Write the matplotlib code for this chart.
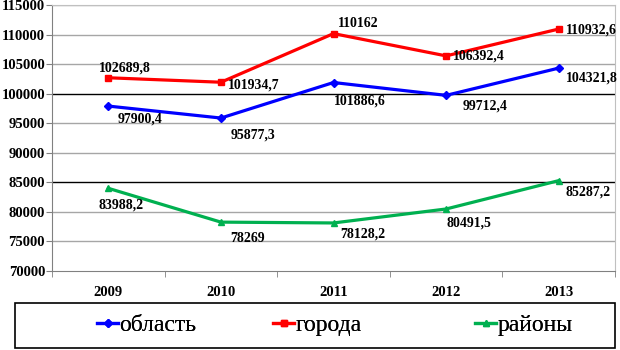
import matplotlib
matplotlib.use('Agg')
import matplotlib.pyplot as plt
from matplotlib.lines import Line2D
from matplotlib.patches import Rectangle

years = ['2009', '2010', '2011', '2012', '2013']
oblast = [97900.4, 95877.3, 101886.6, 99712.4, 104321.8]
goroda = [102689.8, 101934.7, 110162, 106392.4, 110932.6]
raiony = [83988.2, 78269, 78128.2, 80491.5, 85287.2]
oblast_lbl = ['97900,4', '95877,3', '101886,6', '99712,4', '104321,8']
goroda_lbl = ['102689,8', '101934,7', '110162', '106392,4', '110932,6']
raiony_lbl = ['83988,2', '78269', '78128,2', '80491,5', '85287,2']
yticks = [70000, 75000, 80000, 85000, 90000, 95000, 100000, 105000, 110000, 115000]
series_names = ['область', 'города', 'районы']

plt.rcParams['font.family'] = ['Liberation Serif', 'DejaVu Serif']

fig = plt.figure(figsize=(6.2, 3.5), dpi=100)
ax = fig.add_axes([52 / 620, 1 - 271 / 350, 563 / 620, 266 / 350])

x = list(range(len(years)))
ax.set_xlim(-0.5, 4.5)
ax.set_ylim(70000, 115000)
for v in yticks[1:]:
    c = '#000000' if v in (85000, 100000) else '#a6a6a6'
    ax.axhline(v, color=c, lw=1.0, zorder=1)

ax.plot(x, oblast, color='#0000ff', lw=2.3, marker='D', ms=4.5, zorder=3)
ax.plot(x, goroda, color='#ff0000', lw=2.3, marker='s', ms=5, zorder=3)
ax.plot(x, raiony, color='#00b050', lw=2.3, marker='^', ms=5, zorder=3)

lbl_style = dict(fontsize=10, fontweight='bold', color='black', zorder=4)
oblast_off = [(7, -9), (7, -12), (0, -13), (12, -8), (5, -7)]
goroda_off = [(-7, 7), (5, -2), (3, 7), (5, 0), (5, -1)]
raiony_off = [(-7, -12), (7, -12), (5, -8), (0, -10), (5, -8)]
for vals, lbls, offs in [(oblast, oblast_lbl, oblast_off),
                         (goroda, goroda_lbl, goroda_off),
                         (raiony, raiony_lbl, raiony_off)]:
    for i in x:
        ax.annotate(lbls[i], (i, vals[i]), xytext=offs[i], textcoords='offset points',
                    ha='left', va='center', **lbl_style)

ax.set_yticks(yticks)
ax.set_yticklabels([str(v) for v in yticks], fontsize=10.5, fontweight='bold')
ax.set_xticks(x)
ax.set_xticklabels(years, fontsize=10.5, fontweight='bold')
ax.set_xticks([i + 0.5 for i in range(-1, 5)], minor=True)
ax.tick_params(axis='x', which='major', length=0, pad=11)
ax.tick_params(axis='x', which='minor', length=4, color='#808080')
ax.tick_params(axis='y', length=4, color='#808080', pad=1)

for s in ['top', 'right']:
    ax.spines[s].set_color('#c0c0c0')
ax.spines['left'].set_color('#808080')
ax.spines['bottom'].set_color('#808080')

# рамка легенды
fig.patches.append(Rectangle((15 / 620, 2 / 350), 600 / 620, 45 / 350,
                             transform=fig.transFigure, fill=False, ec='black', lw=1.2))
handles = [Line2D([], [], color='#0000ff', lw=2.3, marker='D', ms=4.5),
           Line2D([], [], color='#ff0000', lw=2.3, marker='s', ms=5),
           Line2D([], [], color='#00b050', lw=2.3, marker='^', ms=5)]
leg_x = [97, 273, 475]
for h, name, lx in zip(handles, series_names, leg_x):
    leg = fig.legend([h], [name], loc='center left', bbox_to_anchor=(lx / 620, 1 - 325 / 350),
                     frameon=False, fontsize=17, handlelength=0.9, handletextpad=0.05,
                     borderpad=0, borderaxespad=0)
    fig.add_artist(leg)

fig.savefig('out.png', dpi=100)
